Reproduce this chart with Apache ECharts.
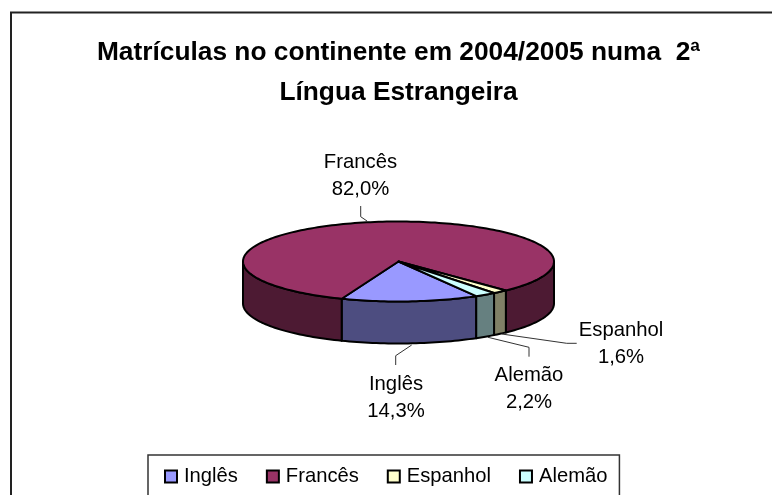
<!DOCTYPE html>
<html>
<head>
<meta charset="utf-8">
<style>
html,body{margin:0;padding:0;background:#fff;}
#main{width:772px;height:495px;}
</style>
<script src="https://cdn.jsdelivr.net/npm/echarts@6/dist/echarts.min.js"></script>
</head>
<body>
<div id="main"></div>
<script>
var categories = ['Inglês', 'Francês', 'Espanhol', 'Alemão'];
var values = [14.3, 82.0, 1.6, 2.2];
var topColors = ['#9999FF', '#993366', '#FFFFCC', '#CCFFFF'];
var wallColors = ['#4D4D80', '#4D1A33', '#808066', '#668080'];
var titleText = 'Matrículas no continente em 2004/2005 numa  2ª\nLíngua Estrangeira';

// ellipse of the fake 3d pie
var cx = 398.5, cy = 261.5, rx = 155.5, ry = 40, depth = 42;
var startAngle = 150; // clockwise from top
var font = '"Liberation Sans", Arial, sans-serif';

// label anchor + leader line for each slice
var labelPos = [[396, 397.5], [360.5, 175.5], [621, 343.5], [529, 388.5]];
var leaders = [
  [[411.7, 345], [395.7, 355.7], [395.7, 365]],
  [[367, 221], [360.7, 216.7], [360.7, 206]],
  [[501.7, 334], [566.7, 343.3], [576.7, 343.3]],
  [[488, 337.3], [529, 347.3], [529, 356.7]]
];

var total = values.reduce(function (a, b) { return a + b; }, 0);

function rimPoint(deg, dy) {
  var r = deg * Math.PI / 180;
  return [cx + rx * Math.sin(r), cy - ry * Math.cos(r) + (dy || 0)];
}

function arc(from, to, dy) {
  var pts = [], n = Math.max(2, Math.ceil(Math.abs(to - from) / 1.5));
  for (var i = 0; i <= n; i++) {
    pts.push(rimPoint(from + (to - from) * i / n, dy));
  }
  return pts;
}

function wallPiece(from, to, color) {
  var pts = arc(from, to, 0).concat(arc(to, from, depth));
  return {
    type: 'polygon',
    shape: { points: pts },
    style: { fill: color, stroke: '#000', lineWidth: 2, lineJoin: 'round' }
  };
}

function makeRender(idx) {
  return function (params, api) {
    var before = 0;
    for (var i = 0; i < idx; i++) before += values[i];
    var from = startAngle + before / total * 360;
    var to = from + api.value(0) / total * 360;
    var children = [];

    // only the front half of the rim shows a wall (90..270, also 450..630)
    [[90, 270], [450, 630]].forEach(function (w) {
      var a = Math.max(from, w[0]), b = Math.min(to, w[1]);
      if (b > a) children.push(wallPiece(a, b, wallColors[idx]));
    });

    children.push({
      type: 'polygon',
      shape: { points: [[cx, cy]].concat(arc(from, to, 0)) },
      style: { fill: topColors[idx], stroke: '#000', lineWidth: 2, lineJoin: 'round' }
    });

    children.push({
      type: 'polyline',
      shape: { points: leaders[idx] },
      style: { fill: null, stroke: '#333', lineWidth: 1 }
    });

    children.push({
      type: 'text',
      style: {
        text: categories[idx] + '\n' + api.value(0).toFixed(1).replace('.', ',') + '%',
        x: labelPos[idx][0],
        y: labelPos[idx][1],
        align: 'center',
        verticalAlign: 'middle',
        fill: '#000',
        font: '20.3px ' + font,
        lineHeight: 27
      }
    });
    return { type: 'group', children: children };
  };
}

var myChart = echarts.init(document.getElementById('main'), null, { renderer: 'canvas' });
var option = {
  animation: false,
  backgroundColor: '#fff',
  graphic: [{
    type: 'rect',
    z: -10,
    // frame runs off the right and bottom of the picture
    shape: { x: 11, y: 12.5, width: 800, height: 520 },
    style: { fill: '#fff', stroke: '#222', lineWidth: 2 }
  }],
  title: {
    text: titleText,
    left: 393.5,
    top: 28,
    textAlign: 'center',
    textStyle: {
      fontFamily: font,
      fontWeight: 'bold',
      fontSize: 26.3,
      lineHeight: 40,
      color: '#000'
    }
  },
  legend: {
    left: 148,
    top: 455,
    orient: 'horizontal',
    selectedMode: false,
    icon: 'rect',
    itemWidth: 12,
    itemHeight: 12,
    itemGap: 28,
    padding: [11.5, 12, 40, 16],
    backgroundColor: '#fff',
    borderColor: '#333',
    borderWidth: 1.5,
    borderRadius: 0,
    data: categories,
    itemStyle: { borderColor: '#000', borderWidth: 2 },
    textStyle: { fontFamily: font, fontSize: 20.2, color: '#000', padding: [0, 0, 0, 2] }
  },
  series: categories.map(function (name, i) {
    return {
      type: 'custom',
      name: name,
      coordinateSystem: 'none',
      silent: true,
      itemStyle: { color: topColors[i] },
      renderItem: makeRender(i),
      data: [[values[i]]]
    };
  })
};
myChart.setOption(option);
</script>
</body>
</html>
